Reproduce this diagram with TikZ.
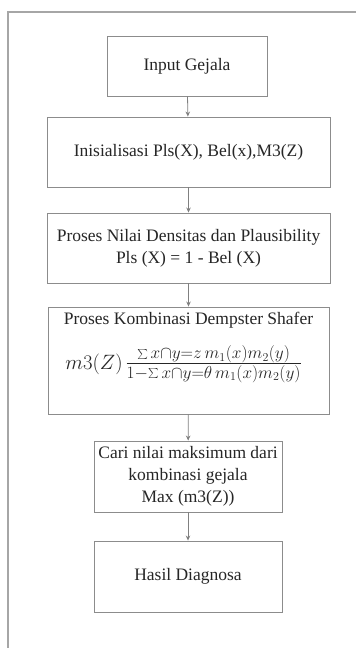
\documentclass[tikz,border=0pt]{standalone}
\usepackage{fontspec}
\setmainfont{Liberation Serif}
\usetikzlibrary{arrows.meta}
\begin{document}
\begin{tikzpicture}[x=1pt,y=-1pt,
  box/.style={draw=black!45,line width=0.9pt,rectangle,inner sep=0pt,align=center,
    text=black!85,font=\fontsize{17.5}{22}\selectfont},
  txt/.style={inner sep=0pt,align=center,text=black!85,font=\fontsize{17.5}{22}\selectfont},
  flow/.style={draw=black!50,line width=0.8pt,-{Stealth[length=5pt,width=4.5pt]}},
  frame/.style={draw=black!35,line width=1.5pt}]
\useasboundingbox (0,0) rectangle (356,648);
\fill[white] (0,0) rectangle (356,648);
\coordinate (fb) at (8,649);
\coordinate (fc) at (8,12);
\coordinate (fr) at (357,12);
\draw[frame] (fb) -- (fc) -- (fr);
\node[box,minimum width=160pt,minimum height=60pt] (b1) at (187,66) {Input Gejala};
\node[box,minimum width=283pt,minimum height=70pt] (b2) at (188.5,152) {Inisialisasi Pls(X), Bel(x),M3(Z)};
\node[box,minimum width=283pt,minimum height=70pt] (b3) at (188.5,248) {Proses Nilai Densitas dan Plausibility\\Pls (X) = 1 - Bel (X)};
\node[box,minimum width=281pt,minimum height=107pt] (b4) at (188.5,360.5) {};
\node[txt] (t4) at (188.5,320) {Proses Kombinasi Dempster Shafer};
\node[txt] (f4) at (183.5,364) {{\fontsize{22}{24}\selectfont$m3(Z)$}\,{\fontsize{23}{26}\selectfont$\frac{\sum x\cap y=z\,m_1(x)m_2(y)}{1-\sum x\cap y=\theta\, m_1(x)m_2(y)}$}};
\node[box,minimum width=188pt,minimum height=71pt] (b5) at (188,476.5) {Cari nilai maksimum dari\\kombinasi gejala\\Max (m3(Z))};
\node[box,minimum width=188pt,minimum height=71pt] (b6) at (188,576.5) {Hasil Diagnosa};
\draw[flow] (b1) -- (b2);
\draw[flow] (b2) -- (b3);
\draw[flow] (b3) -- (b4);
\draw[flow] (b4) -- (b5);
\draw[flow] (b5) -- (b6);
\end{tikzpicture}
\end{document}
